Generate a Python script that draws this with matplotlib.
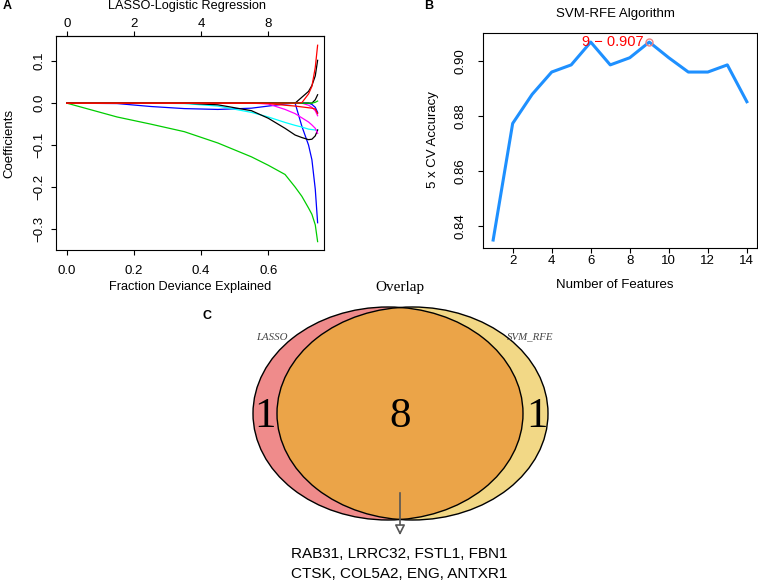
import numpy as np
import matplotlib
matplotlib.use("Agg")
import matplotlib.pyplot as plt
from matplotlib.patches import Ellipse, FancyArrowPatch

# ---------------- data ----------------
# Panel A: LASSO coefficient paths vs fraction deviance explained
dev_grid = [0.00, 0.15, 0.25, 0.35, 0.45, 0.55, 0.60, 0.65, 0.68, 0.70, 0.72, 0.73, 0.74, 0.747]
coef_black1 = [0, 0, 0, 0, -0.004, -0.018, -0.036, -0.060, -0.076, -0.082, -0.087, -0.086, -0.078, -0.064]
coef_black2 = [0, 0, 0, 0, 0, 0, 0, 0, 0, 0.014, 0.028, 0.042, 0.065, 0.102]
coef_black3 = [0, 0, 0, 0, 0, 0, 0, 0, 0, 0, 0, 0, 0.008, 0.020]
coef_green1 = [0, -0.033, -0.050, -0.068, -0.095, -0.128, -0.148, -0.170, -0.200, -0.222, -0.250, -0.265, -0.290, -0.330]
coef_green2 = [0, 0, 0, 0, 0, 0, 0, 0, 0, 0, 0, 0, 0.002, 0.005]
coef_blue1 = [0, -0.001, -0.008, -0.013, -0.015, -0.012, -0.007, -0.002, 0.0, -0.055, -0.100, -0.135, -0.205, -0.285]
coef_blue2 = [0, 0, 0, 0, 0, 0, 0, 0, 0, 0, 0, -0.003, -0.010, -0.022]
coef_cyan1 = [0, 0, 0, -0.001, -0.007, -0.022, -0.033, -0.046, -0.053, -0.057, -0.062, -0.063, -0.064, -0.064]
coef_magenta1 = [0, 0, 0, 0, 0, 0, -0.002, -0.015, -0.025, -0.035, -0.045, -0.052, -0.060, -0.072]
coef_magenta2 = [0, 0, 0, 0, 0, 0, 0, 0, 0, 0, -0.005, -0.010, -0.018, -0.030]
coef_red1 = [0, 0, 0, 0, 0, 0, 0, 0, 0, 0.001, 0.022, 0.040, 0.085, 0.138]
coef_red2 = [0, 0, 0, 0, 0, 0, -0.001, -0.005, -0.007, -0.009, -0.011, -0.012, -0.014, -0.025]
top_ticks = [0.0, 0.2, 0.4, 0.6]
top_labels = ["0", "2", "4", "8"]

# Panel B: SVM-RFE accuracy
n_features = [1, 2, 3, 4, 5, 6, 7, 8, 9, 10, 11, 12, 13, 14]
cv_accuracy = [0.835, 0.8774, 0.888, 0.8961, 0.8987, 0.907, 0.8987, 0.9013,
               0.907, 0.9013, 0.8961, 0.8961, 0.8987, 0.8853]
best_n = 9
best_acc = 0.907

# Panel C: Venn counts
venn_names = ["LASSO", "SVM_RFE"]
venn_counts = [1, 8, 1]   # LASSO only, both, SVM_RFE only
genes_line1 = "RAB31, LRRC32, FSTL1, FBN1"
genes_line2 = "CTSK, COL5A2, ENG, ANTXR1"

# ---------------- figure ----------------
W, H = 758, 582
fig = plt.figure(figsize=(W / 100, H / 100), dpi=100)
SANS = "Liberation Sans"
SERIF = "Liberation Serif"
plt.rcParams["font.family"] = SANS
TL = 3.6  # tick length (pt) ~ 5 px


def fx(x):
    return x / W


def fy(y):
    return 1 - y / H


# ---- Panel C (background axes in pixel coordinates) ----
axc = fig.add_axes([0, 0, 1, 1])
axc.set_xlim(0, W)
axc.set_ylim(H, 0)
axc.axis("off")
cy, hh = 413.5, 106.5
e_l = Ellipse((388, cy), 2 * 135, 2 * hh, facecolor="#EF8B8B", edgecolor="none", zorder=1)
e_r = Ellipse((412.5, cy), 2 * 135.5, 2 * hh, facecolor="#F2D886", edgecolor="none", zorder=1)
axc.add_patch(e_l)
axc.add_patch(e_r)
e_mid = Ellipse((412.5, cy), 2 * 135.5, 2 * hh, facecolor="#EBA448", edgecolor="none", zorder=2)
axc.add_patch(e_mid)
e_mid.set_clip_path(e_l)
axc.add_patch(Ellipse((388, cy), 2 * 135, 2 * hh, facecolor="none", edgecolor="black", lw=1.0, zorder=3))
axc.add_patch(Ellipse((412.5, cy), 2 * 135.5, 2 * hh, facecolor="none", edgecolor="black", lw=1.0, zorder=3))
axc.text(265, 417, str(venn_counts[0]), family=SERIF, fontsize=31, ha="center", va="center", zorder=4)
axc.text(400, 417, str(venn_counts[1]), family=SERIF, fontsize=31, ha="center", va="center", zorder=4)
axc.text(537, 417, str(venn_counts[2]), family=SERIF, fontsize=31, ha="center", va="center", zorder=4)
axc.text(272, 337, venn_names[0], family=SERIF, style="italic", fontsize=7.8, color="#444444",
         ha="center", va="center", zorder=4)
axc.text(530, 337, venn_names[1], family=SERIF, style="italic", fontsize=7.8, color="#444444",
         ha="center", va="center", zorder=4)
axc.text(400, 287, "Overlap", family=SERIF, fontsize=11, ha="center", va="center", zorder=4)
axc.add_patch(FancyArrowPatch((400, 490), (400, 538), arrowstyle="-|>,head_length=6,head_width=3",
                              mutation_scale=1, facecolor="white", edgecolor="#555555", lw=1.2, zorder=5))
axc.text(399, 554, genes_line1, fontsize=11, ha="center", va="center", zorder=4)
axc.text(399, 574, genes_line2, fontsize=11, ha="center", va="center", zorder=4)
axc.text(207, 316, "C", fontsize=9, fontweight="bold", ha="center", va="center")

# ---- Panel A ----
axa = fig.add_axes([fx(56), fy(250), fx(324) - fx(56), fy(36) - fy(250)])
series = [
    (coef_green1, "#00CD00"), (coef_blue1, "#0000FF"), (coef_cyan1, "#00FFFF"),
    (coef_black1, "black"), (coef_magenta1, "#FF00FF"), (coef_magenta2, "#FF00FF"),
    (coef_blue2, "#0000FF"), (coef_black2, "black"), (coef_black3, "black"),
    (coef_green2, "#00CD00"), (coef_red2, "#FF0000"), (coef_red1, "#FF0000"),
]
for vals, col in series:
    axa.plot(dev_grid, vals, color=col, lw=0.9)
axa.set_xlim(-0.032, 0.766)
axa.set_ylim(-0.35, 0.16)
axa.set_xticks([0.0, 0.2, 0.4, 0.6])
axa.set_xticklabels(["0.0", "0.2", "0.4", "0.6"])
axa.set_yticks([-0.3, -0.2, -0.1, 0.0, 0.1])
axa.set_yticklabels(["\u22120.3", "\u22120.2", "\u22120.1", "0.0", "0.1"])
axa.tick_params(axis="x", direction="out", length=TL, pad=7.2, labelsize=9.5)
axa.tick_params(axis="y", direction="out", length=TL, pad=4.3, labelsize=9.5, labelrotation=90)
for lb in axa.get_yticklabels():
    lb.set_va("center")
axt = axa.secondary_xaxis("top")
axt.set_xticks(top_ticks)
axt.set_xticklabels(top_labels)
axt.tick_params(direction="out", length=TL, pad=0.5, labelsize=9.5)
fig.text(fx(190), fy(287), "Fraction Deviance Explained", fontsize=9.2, ha="center", va="center")
fig.text(fx(9), fy(143), "Coefficients", fontsize=9.5, ha="center", va="center", rotation=90)
fig.text(fx(187), fy(6.5), "LASSO-Logistic Regression", fontsize=9.2, ha="center", va="center")
fig.text(fx(7), fy(6), "A", fontsize=9, fontweight="bold", ha="center", va="center")

# ---- Panel B ----
axb = fig.add_axes([fx(483), fy(248), fx(757) - fx(483), fy(33) - fy(248)])
axb.plot(n_features, cv_accuracy, color="#1E90FF", lw=2.2)
axb.plot([best_n], [best_acc], "o", ms=5, mfc="none", mec="#F08080", mew=1.0)
axb.text(best_n - 0.28, best_acc, f"{best_n} \u2212 {best_acc:.3f}", color="red", fontsize=10.5,
         ha="right", va="center")
axb.set_xlim(0.48, 14.52)
axb.set_ylim(0.8321, 0.9103)
axb.set_xticks([2, 4, 6, 8, 10, 12, 14])
axb.set_yticks([0.84, 0.86, 0.88, 0.90])
axb.set_yticklabels(["0.84", "0.86", "0.88", "0.90"])
axb.tick_params(axis="x", direction="out", length=TL, pad=1.8, labelsize=9.5)
axb.tick_params(axis="y", direction="out", length=TL, pad=8, labelsize=9.5, labelrotation=90)
for lb in axb.get_yticklabels():
    lb.set_va("center")
fig.text(fx(615), fy(285), "Number of Features", fontsize=9.5, ha="center", va="center")
fig.text(fx(433), fy(140), "5 x CV Accuracy", fontsize=9.5, ha="center", va="center", rotation=90)
fig.text(fx(615), fy(14), "SVM-RFE Algorithm", fontsize=9.5, ha="center", va="center")
fig.text(fx(429), fy(6), "B", fontsize=9, fontweight="bold", ha="center", va="center")

fig.savefig("out.png", dpi=100)
